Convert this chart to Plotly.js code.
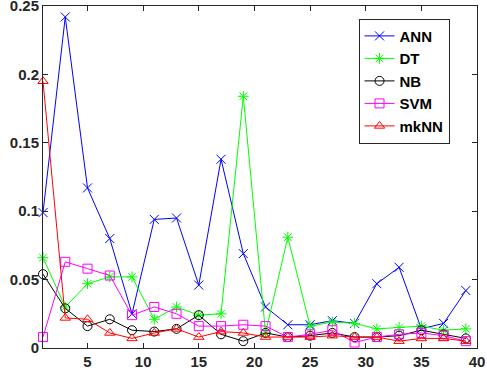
<!DOCTYPE html>
<html>
<head>
<meta charset="utf-8">
<script src="https://cdn.plot.ly/plotly-3.0.1.min.js"></script>
<style>
  html, body { margin: 0; padding: 0; background: #fff; }
  #chart { width: 487px; height: 376px; }
</style>
</head>
<body>
<div id="chart"></div>
<script>
// sample positions (odd numbers 1..39)
const xs = [1, 3, 5, 7, 9, 11, 13, 15, 17, 19, 21, 23, 25, 27, 29, 31, 33, 35, 37, 39];

const ann  = [0.099, 0.242, 0.117, 0.080, 0.025, 0.094, 0.095, 0.046, 0.138, 0.069,
              0.030, 0.017, 0.017, 0.020, 0.018, 0.047, 0.059, 0.014, 0.018, 0.042];
const dt   = [0.066, 0.030, 0.047, 0.052, 0.052, 0.021, 0.030, 0.024, 0.025, 0.184,
              0.011, 0.081, 0.016, 0.019, 0.018, 0.014, 0.015, 0.016, 0.013, 0.014];
const nb   = [0.054, 0.029, 0.016, 0.021, 0.013, 0.012, 0.014, 0.024, 0.010, 0.005,
              0.011, 0.008, 0.009, 0.011, 0.008, 0.008, 0.009, 0.013, 0.010, 0.007];
const svm  = [0.008, 0.063, 0.058, 0.053, 0.024, 0.030, 0.025, 0.016, 0.016, 0.017,
              0.016, 0.008, 0.010, 0.013, 0.004, 0.008, 0.010, 0.011, 0.009, 0.005];
const mknn = [0.195, 0.022, 0.021, 0.011, 0.007, 0.011, 0.014, 0.008, 0.012, 0.011,
              0.008, 0.008, 0.008, 0.009, 0.008, 0.008, 0.005, 0.007, 0.007, 0.005];

const names   = ["ANN", "DT", "NB", "SVM", "mkNN"];
const colors  = ["#0000ff", "#00ff00", "#000000", "#ff00ff", "#ff0000"];
const symbols = ["x-thin-open", "asterisk-open", "circle-open", "square-open", "triangle-up-open"];
const series  = [ann, dt, nb, svm, mknn];

const xTicks = [5, 10, 15, 20, 25, 30, 35, 40];
const yTicks = [0, 0.05, 0.1, 0.15, 0.2, 0.25];
const yTickText = ["0", "0.05", "0.1", "0.15", "0.2", "0.25"];

const traces = series.map((ys, i) => ({
  x: xs,
  y: ys,
  name: names[i],
  type: "scatter",
  mode: "lines+markers",
  cliponaxis: false,
  line: { color: colors[i], width: 1 },
  marker: { symbol: symbols[i], size: 9, color: colors[i], line: { color: colors[i], width: 1 } }
}));

const axisCommon = {
  showline: true,
  linecolor: "#262626",
  linewidth: 1,
  mirror: "ticks",
  ticks: "inside",
  ticklen: 5,
  tickcolor: "#262626",
  showgrid: false,
  zeroline: false,
  ticklabeloverflow: "allow",
  tickfont: { family: "Liberation Sans, Arial", size: 15, color: "#262626" }
};

Plotly.newPlot("chart", traces, {
  width: 487,
  height: 376,
  margin: { l: 43, r: 10, t: 6, b: 28 },
  paper_bgcolor: "#fff",
  plot_bgcolor: "#fff",
  showlegend: true,
  xaxis: { ...axisCommon, range: [1, 40], tickvals: xTicks,
           ticktext: xTicks.map(t => "<b>" + t + "</b>") },
  yaxis: { ...axisCommon, range: [0, 0.25], tickvals: yTicks,
           ticktext: yTickText.map(t => "<b>" + t + "</b>") },
  legend: {
    x: 0.727, y: 0.963, xanchor: "left", yanchor: "top",
    bgcolor: "#fff",
    bordercolor: "#262626",
    borderwidth: 1,
    tracegroupgap: 0,
    font: { family: "Liberation Sans, Arial", size: 15, color: "#000", weight: "bold" }
  }
}, { displayModeBar: false });
</script>
</body>
</html>
